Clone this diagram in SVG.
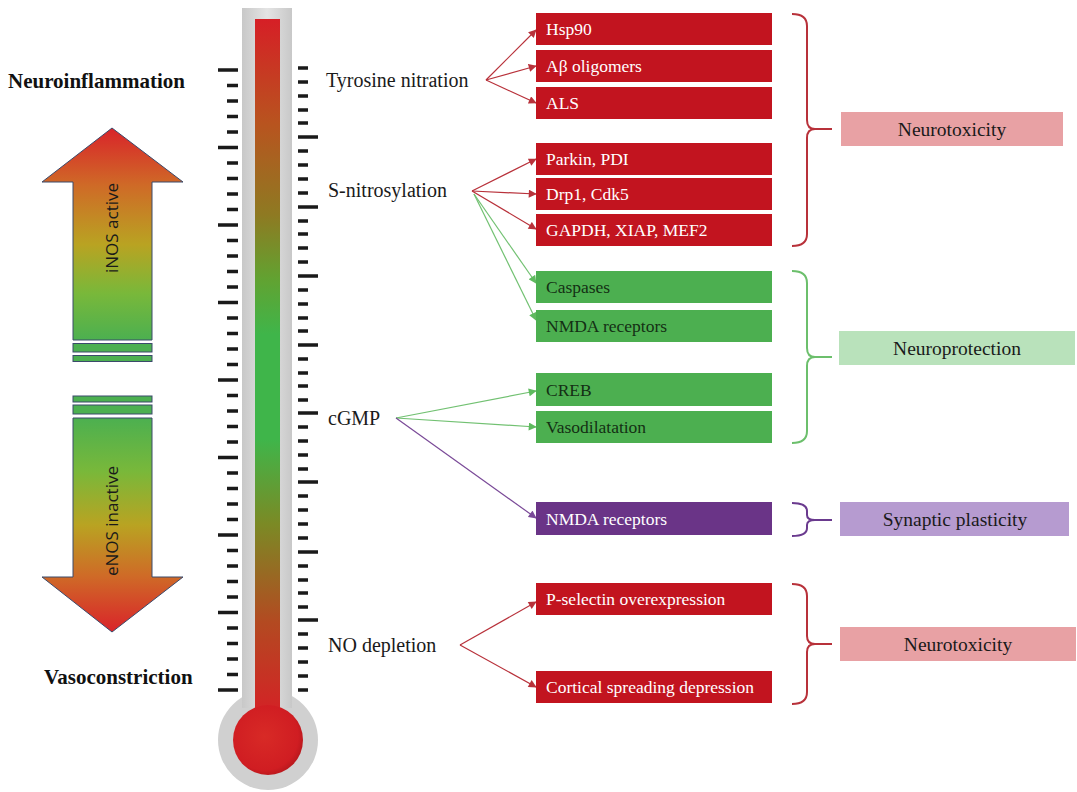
<svg xmlns="http://www.w3.org/2000/svg" width="1077" height="792" viewBox="0 0 1077 792">
<defs>
<linearGradient id="gUp" x1="0" y1="128" x2="0" y2="340" gradientUnits="userSpaceOnUse">
<stop offset="0" stop-color="#d9232a"/><stop offset="0.27" stop-color="#cf6a27"/><stop offset="0.55" stop-color="#b9a322"/><stop offset="0.78" stop-color="#79b83a"/><stop offset="1" stop-color="#4cb050"/>
</linearGradient>
<linearGradient id="gDown" x1="0" y1="418" x2="0" y2="632" gradientUnits="userSpaceOnUse">
<stop offset="0" stop-color="#4cb050"/><stop offset="0.25" stop-color="#79b83a"/><stop offset="0.5" stop-color="#b9a322"/><stop offset="0.74" stop-color="#cf6a27"/><stop offset="1" stop-color="#d9232a"/>
</linearGradient>
<linearGradient id="gTube" x1="0" y1="19" x2="0" y2="720" gradientUnits="userSpaceOnUse">
<stop offset="0" stop-color="#d61f26"/><stop offset="0.15" stop-color="#b8541f"/><stop offset="0.28" stop-color="#8e7a22"/><stop offset="0.37" stop-color="#62a231"/><stop offset="0.45" stop-color="#3fb54a"/><stop offset="0.6" stop-color="#3fb54a"/><stop offset="0.72" stop-color="#7b8a25"/><stop offset="0.86" stop-color="#b34a21"/><stop offset="1" stop-color="#d61f26"/>
</linearGradient>
<linearGradient id="gGlass" x1="0" y1="0" x2="1" y2="0">
<stop offset="0" stop-color="#c8c8c8"/><stop offset="0.5" stop-color="#e4e4e4"/><stop offset="1" stop-color="#c8c8c8"/>
</linearGradient>
<radialGradient id="gBulb" cx="0.45" cy="0.45" r="0.6">
<stop offset="0" stop-color="#d82a26"/><stop offset="0.8" stop-color="#d01d22"/><stop offset="1" stop-color="#b2161b"/>
</radialGradient>
<marker id="mRed" viewBox="0 0 10 10" refX="9" refY="5" markerWidth="9" markerHeight="8" markerUnits="userSpaceOnUse" orient="auto"><path d="M0,0 L10,5 L0,10 z" fill="#b8313a"/></marker>
<marker id="mGreen" viewBox="0 0 10 10" refX="9" refY="5" markerWidth="9" markerHeight="8" markerUnits="userSpaceOnUse" orient="auto"><path d="M0,0 L10,5 L0,10 z" fill="#5fba5f"/></marker>
<marker id="mPurple" viewBox="0 0 10 10" refX="9" refY="5" markerWidth="9" markerHeight="8" markerUnits="userSpaceOnUse" orient="auto"><path d="M0,0 L10,5 L0,10 z" fill="#7a4a98"/></marker>
</defs>
<style>
.head{font-family:"Liberation Serif",serif;font-weight:bold;font-size:21px;fill:#111}
.lbl{font-family:"Liberation Serif",serif;font-size:20px;fill:#1a1a1a}
.bt{font-family:"Liberation Serif",serif;font-size:17.5px}
.w{fill:#ffffff}
.d{fill:#143014}
.red{fill:#c2141f}
.grn{fill:#4caf50}
.pur{fill:#6a3487}
.tick{stroke:#1a1a1a;stroke-width:3.5}
.arrowbody{stroke:#3b4a6b;stroke-width:1}
.cr{stroke:#b8313a;stroke-width:1.2;fill:none;marker-end:url(#mRed)}
.cg{stroke:#72c172;stroke-width:1.2;fill:none;marker-end:url(#mGreen)}
.cp{stroke:#7a4a98;stroke-width:1.2;fill:none;marker-end:url(#mPurple)}
.br{fill:none;stroke-width:2}
.sum{font-family:"Liberation Serif",serif;font-size:19.5px;fill:#1a1a1a}
.vert{font-family:"Open Sans","Noto Sans",sans-serif;font-size:17px;fill:#1a1a1a}
</style>
<rect width="1077" height="792" fill="#ffffff"/>

<g id="thermometer">
<circle cx="268" cy="740" r="50" fill="#d0d0d0"/>
<rect x="242" y="8" width="50" height="700" fill="url(#gGlass)"/>
<rect x="255" y="19" width="25" height="700" fill="url(#gTube)"/>
<circle cx="268" cy="740" r="35" fill="url(#gBulb)"/>
</g>

<g id="scale-left" class="tick">
<path d="M218,70H238 M227,85.5H238 M227,101H238 M227,116.5H238 M227,132H238 M218,147.5H238 M227,163H238 M227,178.5H238 M227,194H238 M227,209.5H238 M218,225H238 M227,240.5H238 M227,256H238 M227,271.5H238 M227,287H238 M218,302.5H238 M227,318H238 M227,333.5H238 M227,349H238 M227,364.5H238 M218,380H238 M227,395.5H238 M227,411H238 M227,426.5H238 M227,442H238 M218,457.5H238 M227,473H238 M227,488.5H238 M227,504H238 M227,519.5H238 M218,535H238 M227,550.5H238 M227,566H238 M227,581.5H238 M227,597H238 M218,612.5H238 M227,628H238 M227,643.5H238 M227,659H238 M227,674.5H238 M218,690H238"/>
</g>
<g id="scale-right" class="tick">
<path d="M298,68H308 M298,82H308 M298,96H308 M298,110H308 M298,123H308 M298,137H318 M298,151H308 M298,165H308 M298,179H308 M298,193H308 M298,207H318 M298,221H308 M298,234H308 M298,248H308 M298,262H308 M298,276H318 M298,290H308 M298,304H308 M298,318H308 M298,331H308 M298,345H318 M298,359H308 M298,373H308 M298,386H308 M298,400H308 M298,413H318 M298,427H308 M298,441H308 M298,455H308 M298,469H308 M298,482H318 M298,496H308 M298,510H308 M298,524H308 M298,538H308 M298,552H318 M298,566H308 M298,580H308 M298,593H308 M298,607H308 M298,620H318 M298,634H308 M298,648H308 M298,662H308 M298,676H308 M298,690H308"/>
</g>

<g id="arrow-up">
<path class="arrowbody" d="M112,128 L183,182 L152,182 L152,340 L73,340 L73,182 L42,182 Z" fill="url(#gUp)"/>
<rect class="arrowbody" x="73" y="343.5" width="79" height="8.5" fill="#4cb050"/>
<rect class="arrowbody" x="73" y="355.5" width="79" height="6" fill="#4cb050"/>
<text class="vert" transform="translate(118,228) rotate(-90)" text-anchor="middle">iNOS active</text>
</g>
<g id="arrow-down">
<rect class="arrowbody" x="73" y="396" width="79" height="6" fill="#4cb050"/>
<rect class="arrowbody" x="73" y="405" width="79" height="9" fill="#4cb050"/>
<path class="arrowbody" d="M73,418 L152,418 L152,577 L183,577 L112,632 L42,577 L73,577 Z" fill="url(#gDown)"/>
<text class="vert" transform="translate(118,521) rotate(-90)" text-anchor="middle">eNOS inactive</text>
</g>

<g id="side-labels">
<text class="head" x="8" y="88">Neuroinflammation</text>
<text class="head" x="44" y="684">Vasoconstriction</text>
</g>

<g id="mechanisms">
<text class="lbl" x="326" y="87">Tyrosine nitration</text>
<text class="lbl" x="328" y="197">S-nitrosylation</text>
<text class="lbl" x="328" y="425">cGMP</text>
<text class="lbl" x="328" y="652">NO depletion</text>
</g>

<g id="connectors">
<path class="cr" d="M486,80 L536,30"/>
<path class="cr" d="M486,80 L536,66"/>
<path class="cr" d="M486,80 L536,103"/>
<path class="cr" d="M472,191 L536,159"/>
<path class="cr" d="M472,191 L536,194"/>
<path class="cr" d="M472,191 L536,229"/>
<path class="cg" d="M474,194 L536,283"/>
<path class="cg" d="M474,194 L536,320"/>
<path class="cg" d="M396,418 L536,391"/>
<path class="cg" d="M396,418 L536,427"/>
<path class="cp" d="M396,418 L536,518"/>
<path class="cr" d="M460,645 L536,602"/>
<path class="cr" d="M460,645 L536,687"/>
</g>

<g id="box-hsp90"><rect class="red" x="536" y="13" width="236" height="32"/><text class="bt w" x="546" y="35">Hsp90</text></g>
<g id="box-abeta"><rect class="red" x="536" y="50" width="236" height="32"/><text class="bt w" x="546" y="72">Aβ oligomers</text></g>
<g id="box-als"><rect class="red" x="536" y="87" width="236" height="32"/><text class="bt w" x="546" y="109">ALS</text></g>
<g id="box-parkin"><rect class="red" x="536" y="143" width="236" height="32"/><text class="bt w" x="546" y="165">Parkin, PDI</text></g>
<g id="box-drp1"><rect class="red" x="536" y="178" width="236" height="32"/><text class="bt w" x="546" y="200">Drp1, Cdk5</text></g>
<g id="box-gapdh"><rect class="red" x="536" y="214" width="236" height="32"/><text class="bt w" x="546" y="236">GAPDH, XIAP, MEF2</text></g>
<g id="box-caspases"><rect class="grn" x="536" y="271" width="236" height="32"/><text class="bt d" x="546" y="293">Caspases</text></g>
<g id="box-nmda1"><rect class="grn" x="536" y="310" width="236" height="32"/><text class="bt d" x="546" y="332">NMDA receptors</text></g>
<g id="box-creb"><rect class="grn" x="536" y="373" width="236" height="33"/><text class="bt d" x="546" y="396">CREB</text></g>
<g id="box-vaso"><rect class="grn" x="536" y="411" width="236" height="32"/><text class="bt d" x="546" y="433">Vasodilatation</text></g>
<g id="box-nmda2"><rect class="pur" x="536" y="502" width="236" height="33"/><text class="bt w" x="546" y="525">NMDA receptors</text></g>
<g id="box-pselectin"><rect class="red" x="536" y="583" width="236" height="32"/><text class="bt w" x="546" y="605">P-selectin overexpression</text></g>
<g id="box-cortical"><rect class="red" x="536" y="671" width="236" height="32"/><text class="bt w" x="546" y="693">Cortical spreading depression</text></g>

<g id="brackets">
<path class="br" stroke="#b8313a" d="M792,14 Q807,14 807,26 L807,120 Q807,129 815,129 L832,129 M815,129 Q807,129 807,138 L807,234 Q807,246 792,246"/>
<path class="br" stroke="#6cbf6c" d="M792,271 Q807,271 807,283 L807,348 Q807,357 815,357 L832,357 M815,357 Q807,357 807,366 L807,431 Q807,443 792,443"/>
<path class="br" stroke="#6a3a8e" d="M792,503 Q807,503 807,511 L807,515 Q807,520 815,520 L832,520 M815,520 Q807,520 807,525 L807,528 Q807,536 792,536"/>
<path class="br" stroke="#b8313a" d="M792,584 Q807,584 807,596 L807,636 Q807,644 815,644 L832,644 M815,644 Q807,644 807,652 L807,692 Q807,704 792,704"/>
</g>

<g id="out-neurotox1"><rect x="841" y="112" width="222" height="34" fill="#e8a1a4"/><text class="sum" x="952" y="136" text-anchor="middle">Neurotoxicity</text></g>
<g id="out-neuroprot"><rect x="839" y="331" width="236" height="34" fill="#b9e2bb"/><text class="sum" x="957" y="355" text-anchor="middle">Neuroprotection</text></g>
<g id="out-synaptic"><rect x="840" y="502" width="229" height="34" fill="#b69bd0"/><text class="sum" x="955" y="526" text-anchor="middle">Synaptic plasticity</text></g>
<g id="out-neurotox2"><rect x="840" y="627" width="236" height="34" fill="#e8a1a4"/><text class="sum" x="958" y="651" text-anchor="middle">Neurotoxicity</text></g>
</svg>
